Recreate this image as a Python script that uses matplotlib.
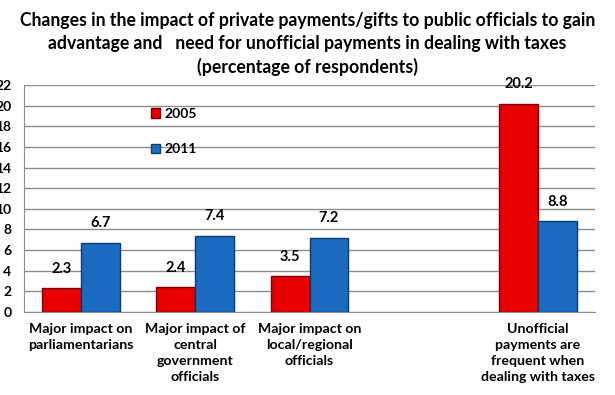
import matplotlib
matplotlib.use("Agg")
import matplotlib.pyplot as plt
import numpy as np

categories = ["Major impact on\nparliamentarians",
              "Major impact of\ncentral\ngovernment\nofficials",
              "Major impact on\nlocal/regional\nofficials",
              "",
              "Unofficial\npayments are\nfrequent when\ndealing with taxes"]
vals_2005 = [2.3, 2.4, 3.5, None, 20.2]
vals_2011 = [6.7, 7.4, 7.2, None, 8.8]
series_names = ["2005", "2011"]
yticks = list(range(0, 23, 2))
title = ("Changes in the impact of private payments/gifts to public officials to gain\n"
         "advantage and   need for unofficial payments in dealing with taxes\n"
         "(percentage of respondents)")

plt.rcParams['font.family'] = ['Lato', 'DejaVu Sans']
plt.rcParams['font.weight'] = 'bold'

fig = plt.figure(figsize=(6.15, 3.95), dpi=100)
ax = fig.add_axes([24/615, 1-312/395, 571/615, 227/395])

x = np.arange(len(categories))
w = 0.34
red = "#e80000"
blue = "#1b6cc0"

def clean(v):
    return [np.nan if a is None else a for a in v]

b1 = ax.bar(x - w/2, clean(vals_2005), w, color=red, edgecolor="#7a0000", linewidth=1.0, label=series_names[0], zorder=3)
b2 = ax.bar(x + w/2, clean(vals_2011), w, color=blue, edgecolor="#0b3b6e", linewidth=1.0, label=series_names[1], zorder=3)

for bars, vals in ((b1, vals_2005), (b2, vals_2011)):
    for rect, v in zip(bars, vals):
        if v is None:
            continue
        ax.text(rect.get_x() + rect.get_width()/2, v + 1.2, f"{v:.1f}",
                ha="center", va="bottom", fontsize=10.5, fontweight="bold")

ax.set_xlim(-0.5, len(categories) - 0.5)
ax.set_ylim(0, 22)
ax.set_yticks(yticks)
ax.set_yticklabels([str(t) for t in yticks], fontsize=10, fontweight="bold")
ax.tick_params(axis="y", length=0, pad=9)
ax.set_xticks(x)
ax.set_xticklabels(categories, fontsize=10.2, fontweight="bold", linespacing=1.38)
ax.tick_params(axis="x", length=0, pad=8)
ax.yaxis.grid(True, color="#8c8c8c", linewidth=1, zorder=0)
ax.set_axisbelow(True)
for s in ("top", "right"):
    ax.spines[s].set_visible(False)
ax.spines["left"].set_color("#8c8c8c")
ax.spines["bottom"].set_color("#8c8c8c")

leg = ax.legend(loc="upper left", bbox_to_anchor=(0.2, 0.955), frameon=False,
                handlelength=0.7, handleheight=0.7, labelspacing=1.7,
                handletextpad=0.3, prop={"size": 10, "weight": "bold"})

fig.text(0.5, 0.97, title, ha="center", va="top", fontsize=12.7, fontweight="bold", linespacing=1.42)

fig.savefig("out.png", dpi=100)
